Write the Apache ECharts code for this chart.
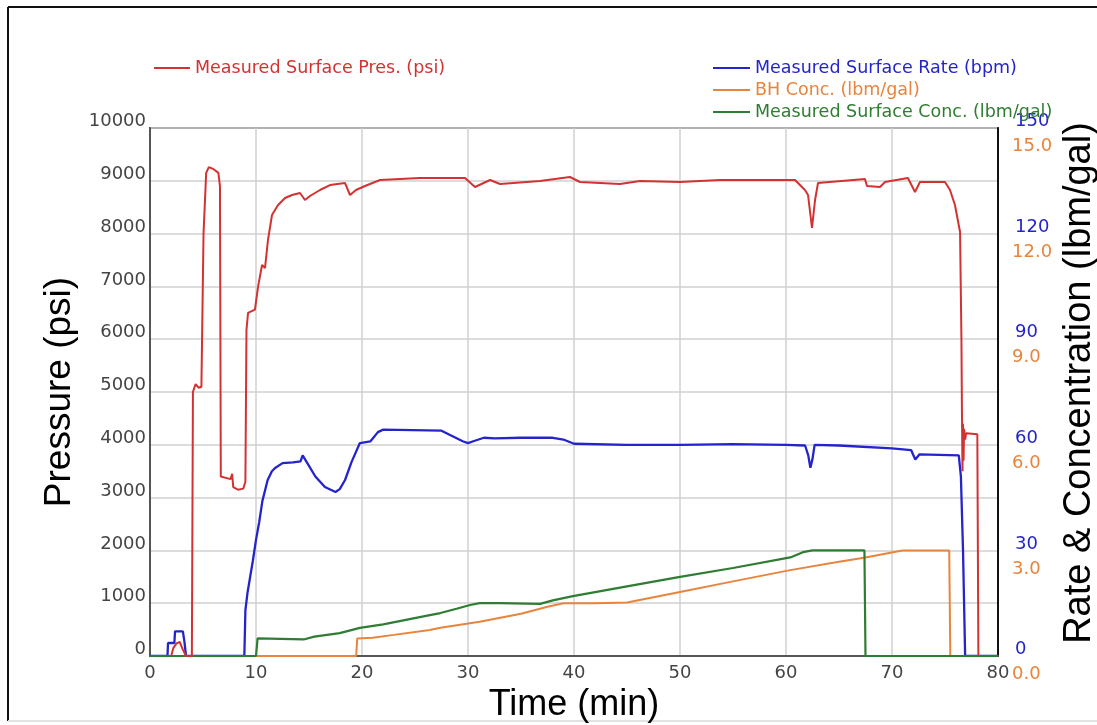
<!DOCTYPE html>
<html>
<head>
<meta charset="utf-8">
<title>Treatment Plot</title>
<script src="https://cdn.jsdelivr.net/npm/echarts@6/dist/echarts.min.js"></script>
<style>
  html, body { margin: 0; padding: 0; background: #ffffff; overflow: hidden; }
  #chart { width: 1097px; height: 725px; }
</style>
</head>
<body>
<div id="chart"></div>
<script>
// Time axis ticks (min)
const timeTicks = [0, 10, 20, 30, 40, 50, 60, 70, 80];

// Measured surface pressure (psi)
const presTime = [2.0, 2.2, 2.5, 2.8, 3.1, 3.4, 3.95, 4.05, 4.3, 4.6, 4.85, 5.05, 5.3, 5.55, 6.0, 6.45, 6.6, 6.68, 7.4, 7.6, 7.75, 7.85, 8.3, 8.8, 9.0, 9.1, 9.25, 9.4, 9.9, 10.2, 10.57, 10.85, 11.13, 11.51, 12.08, 12.74, 13.4, 14.15, 14.62, 15.09, 16.04, 16.98, 18.4, 18.87, 19.43, 20.28, 21.7, 25.47, 29.72, 30.66, 32.08, 33.02, 36.79, 39.62, 40.57, 44.34, 46.23, 50.0, 53.77, 60.85, 61.79, 62.08, 62.45, 62.74, 63.02, 67.45, 67.64, 68.87, 69.34, 71.5, 72.17, 72.64, 75.0, 75.47, 75.94, 76.42, 76.55, 76.6, 76.65, 76.7, 76.75, 76.8, 76.9, 77.0, 78.05, 78.15];
const presVal  = [0, 150, 240, 265, 120, 0, 0, 5000, 5150, 5080, 5100, 8000, 9150, 9260, 9220, 9150, 8900, 3400, 3360, 3350, 3450, 3200, 3150, 3170, 3300, 6170, 6500, 6520, 6560, 7000, 7405, 7348, 7879, 8352, 8542, 8674, 8731, 8769, 8636, 8712, 8826, 8920, 8958, 8731, 8826, 8902, 9015, 9053, 9053, 8883, 9015, 8939, 8996, 9072, 8977, 8939, 8996, 8977, 9015, 9015, 8826, 8731, 8106, 8636, 8958, 9034, 8902, 8883, 8977, 9053, 8788, 8977, 8977, 8826, 8542, 8030, 6000, 4600, 3500, 4400, 3700, 4300, 4100, 4220, 4200, 0];

// Measured surface rate (bpm)
const rateTime = [0, 1.65, 1.7, 2.3, 2.36, 3.1, 3.25, 3.4, 8.9, 9.0, 9.2, 9.4, 9.7, 10.0, 10.3, 10.6, 11.1, 11.5, 11.8, 12.5, 13.5, 14.2, 14.4, 14.7, 15.6, 16.5, 17.5, 17.9, 18.4, 19.0, 19.8, 20.8, 21.5, 22.0, 27.5, 28.5, 29.5, 30.0, 30.5, 31.5, 32.5, 35.0, 38.0, 39.0, 40.0, 45.0, 50.0, 55.0, 60.0, 61.8, 62.1, 62.3, 62.5, 62.7, 65.0, 70.0, 71.8, 72.2, 72.6, 76.3, 76.5, 76.7, 76.9, 80];
const rateVal  = [0, 0, 3.7, 3.7, 7.0, 7.0, 4.0, 0, 0, 13, 18, 21.6, 27, 33, 38, 44, 50, 52.5, 53.4, 54.8, 55, 55.3, 57, 55.5, 51, 48, 46.6, 47.4, 50, 55, 60.5, 61, 63.6, 64.3, 64, 62.5, 61, 60.5, 61, 62, 61.8, 62, 62, 61.5, 60.3, 60, 60, 60.2, 60, 59.8, 57, 53.5, 56, 60, 59.8, 59, 58.5, 55.8, 57.3, 57, 51, 30, 0, 0];

// Bottom-hole proppant concentration (lbm/gal)
const bhTime = [10.0, 19.45, 19.55, 21.0, 23.0, 26.4, 27.4, 31.1, 35.0, 37.5, 39.0, 42.0, 45.0, 50.0, 55.0, 60.4, 65.0, 67.5, 70.1, 71.0, 75.4, 75.5];
const bhVal  = [0, 0, 0.5, 0.52, 0.6, 0.74, 0.8, 0.97, 1.2, 1.4, 1.5, 1.5, 1.52, 1.82, 2.12, 2.44, 2.68, 2.8, 2.95, 3.0, 3.0, 0];

// Measured surface proppant concentration (lbm/gal)
const surfTime = [0, 10.0, 10.15, 14.5, 15.5, 17.9, 19.8, 22.0, 26.4, 27.4, 29.0, 30.2, 31.1, 33.0, 36.8, 38.0, 39.9, 45.0, 50.0, 55.0, 60.4, 61.6, 62.5, 67.4, 67.5, 80];
const surfVal  = [0, 0, 0.5, 0.47, 0.55, 0.65, 0.8, 0.9, 1.16, 1.22, 1.35, 1.45, 1.5, 1.5, 1.48, 1.58, 1.7, 1.98, 2.25, 2.5, 2.8, 2.95, 3.0, 3.0, 0, 0];

const pressureTicks = [0, 1000, 2000, 3000, 4000, 5000, 6000, 7000, 8000, 9000, 10000];
const rateTicks = [0, 30, 60, 90, 120, 150];
const concTicks = [0, 3, 6, 9, 12, 15];

const NAMES = {
  pres: 'Measured Surface Pres. (psi)',
  rate: 'Measured Surface Rate (bpm)',
  bh: 'BH Conc. (lbm/gal)',
  surf: 'Measured Surface Conc. (lbm/gal)'
};
const COLORS = {
  pres: '#d33232',
  rate: '#2424cc',
  bh: '#e8843c',
  surf: '#2f7d32'
};

function pairs(xs, ys) {
  return xs.map((x, i) => [x, ys[i]]);
}

const tickFont = 'DejaVu Sans';
const titleFont = 'Liberation Sans';
const gridColor = '#d0d0d0';

const chartEl = document.getElementById('chart');
const chart = echarts.init(chartEl, null, { renderer: 'canvas', width: 1097, height: 725 });

const option = {
  animation: false,
  backgroundColor: '#ffffff',
  graphic: [
    { type: 'line', shape: { x1: 8, y1: 7, x2: 1097, y2: 7 }, style: { stroke: '#111', lineWidth: 2 } },
    { type: 'line', shape: { x1: 8, y1: 7, x2: 8, y2: 721 }, style: { stroke: '#111', lineWidth: 2 } },
    { type: 'line', shape: { x1: 8, y1: 721, x2: 1097, y2: 721 }, style: { stroke: '#e2e2e2', lineWidth: 2 } }
  ],
  legend: [
    {
      left: 154, top: 59, padding: 0,
      icon: 'rect', itemWidth: 36, itemHeight: 2,
      textStyle: { fontFamily: tickFont, fontSize: 17.5 },
      data: [{ name: NAMES.pres, textStyle: { color: COLORS.pres } }]
    },
    {
      left: 713, top: 59, padding: 0, orient: 'vertical', itemGap: 4,
      icon: 'rect', itemWidth: 37, itemHeight: 2,
      textStyle: { fontFamily: tickFont, fontSize: 17.5 },
      data: [
        { name: NAMES.rate, textStyle: { color: COLORS.rate } },
        { name: NAMES.bh, textStyle: { color: COLORS.bh } },
        { name: NAMES.surf, textStyle: { color: COLORS.surf } }
      ]
    }
  ],
  grid: {
    left: 150, right: 99, top: 128, bottom: 69,
    outerBoundsMode: 'none', containLabel: false,
    show: true, borderColor: '#555', borderWidth: 2
  },
  xAxis: {
    type: 'value',
    min: timeTicks[0], max: timeTicks[timeTicks.length - 1], interval: 10,
    name: 'Time (min)', nameLocation: 'middle', nameGap: 23,
    nameTextStyle: { fontFamily: titleFont, fontSize: 36, color: '#000' },
    axisLine: { lineStyle: { color: '#555', width: 2 } },
    axisTick: { show: false },
    axisLabel: { fontFamily: tickFont, fontSize: 18, color: '#444', margin: 8 },
    splitLine: { show: true, lineStyle: { color: gridColor, width: 1.5 } }
  },
  yAxis: [
    {
      type: 'value', position: 'left',
      min: pressureTicks[0], max: pressureTicks[pressureTicks.length - 1], interval: 1000,
      name: 'Pressure (psi)', nameLocation: 'middle', nameGap: 62, nameRotate: 90,
      nameTextStyle: { fontFamily: titleFont, fontSize: 37, color: '#000' },
      axisLine: { show: true, lineStyle: { color: '#555', width: 2 } },
      axisTick: { show: false },
      axisLabel: {
        fontFamily: tickFont, fontSize: 18, color: '#444', margin: 4,
        verticalAlign: 'bottom', lineHeight: 13,
        formatter: v => String(v)
      },
      splitLine: { show: true, lineStyle: { color: gridColor, width: 1.5 } }
    },
    {
      type: 'value', position: 'right',
      min: rateTicks[0], max: rateTicks[rateTicks.length - 1], interval: 30,
      name: 'Rate & Concentration (lbm/gal)', nameLocation: 'middle', nameGap: 60, nameRotate: 90,
      nameTextStyle: { fontFamily: titleFont, fontSize: 38, color: '#000', padding: [0, 0, 0, 18] },
      axisLine: { show: true, lineStyle: { color: '#111', width: 2 } },
      axisTick: { show: false },
      axisLabel: {
        fontFamily: tickFont, fontSize: 18, color: COLORS.rate, margin: 17,
        verticalAlign: 'bottom', lineHeight: 13,
        formatter: v => String(v)
      },
      splitLine: { show: false }
    },
    {
      type: 'value', position: 'right',
      min: concTicks[0], max: concTicks[concTicks.length - 1], interval: 3,
      axisLine: { show: false },
      axisTick: { show: false },
      axisLabel: {
        fontFamily: tickFont, fontSize: 18, color: COLORS.bh, margin: 14,
        verticalAlign: 'top', lineHeight: 37,
        formatter: v => v.toFixed(1)
      },
      splitLine: { show: false }
    }
  ],
  series: [
    {
      name: NAMES.rate, type: 'line', yAxisIndex: 1, showSymbol: false, symbol: 'none',
      lineStyle: { color: COLORS.rate, width: 2.3 }, itemStyle: { color: COLORS.rate },
      data: pairs(rateTime, rateVal), z: 2
    },
    {
      name: NAMES.bh, type: 'line', yAxisIndex: 2, showSymbol: false, symbol: 'none',
      lineStyle: { color: COLORS.bh, width: 2 }, itemStyle: { color: COLORS.bh },
      data: pairs(bhTime, bhVal), z: 3
    },
    {
      name: NAMES.surf, type: 'line', yAxisIndex: 2, showSymbol: false, symbol: 'none',
      lineStyle: { color: COLORS.surf, width: 2.2 }, itemStyle: { color: COLORS.surf },
      data: pairs(surfTime, surfVal), z: 4
    },
    {
      name: NAMES.pres, type: 'line', yAxisIndex: 0, showSymbol: false, symbol: 'none',
      lineStyle: { color: COLORS.pres, width: 2 }, itemStyle: { color: COLORS.pres },
      data: pairs(presTime, presVal), z: 5
    }
  ]
};

chart.setOption(option);
</script>
</body>
</html>
